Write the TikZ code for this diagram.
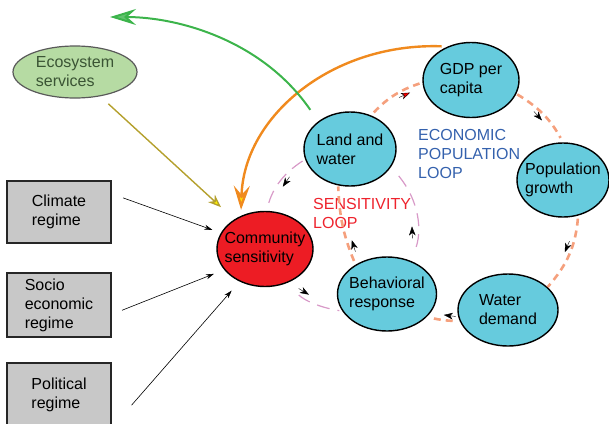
\documentclass[tikz,border=0pt]{standalone}
\usepackage{fontspec}
\setmainfont{Liberation Sans}
\usetikzlibrary{shapes.geometric,arrows.meta,decorations.markings}

\definecolor{nodecyan}{RGB}{102,203,221}
\definecolor{commred}{RGB}{237,28,36}
\definecolor{ecogreen}{RGB}{182,219,163}
\definecolor{ecotext}{RGB}{58,84,52}
\definecolor{boxgray}{RGB}{200,200,200}
\definecolor{econdash}{RGB}{245,160,125}
\definecolor{sensdash}{RGB}{216,154,200}
\definecolor{arcorange}{RGB}{240,138,30}
\definecolor{arcgreen}{RGB}{60,180,75}
\definecolor{ecoline}{RGB}{180,160,45}
\definecolor{loopblue}{RGB}{52,97,173}
\definecolor{loopred}{RGB}{238,35,45}

\tikzset{
    txt/.style={font=\fontsize{16}{19}\selectfont, align=left},
    bubble/.style={txt, ellipse, draw=black, line width=1.4pt, fill=nodecyan,
        inner xsep=-8pt, inner ysep=0pt},
    regime/.style={txt, rectangle, draw=black!85, line width=1.6pt, fill=boxgray,
        minimum width=104pt, inner sep=0pt},
    looptip/.style={solid, black, line width=0.4pt, shorten <=0pt, shorten >=0pt,
        -{Stealth[length=9pt,width=6.5pt,inset=2.5pt]}},
    econloop/.style={draw=econdash, line width=2.6pt, dash pattern=on 7pt off 5pt},
    sensloop/.style={draw=sensdash, line width=1.2pt, dash pattern=on 13pt off 8pt},
    econtick/.style={postaction={decorate, decoration={markings,
        mark=at position #1 with {\draw[looptip] (-12pt,-5pt) -- (0pt,-5pt);}}}},
    redtick/.style={postaction={decorate, decoration={markings,
        mark=at position #1 with {\draw[looptip, -{Stealth[length=9pt,width=6.5pt,inset=2.5pt,fill=red]}]
            (-12pt,-5pt) -- (0pt,-5pt);}}}},
    senstick/.style={postaction={decorate, decoration={markings,
        mark=at position #1 with {\draw[looptip] (-12pt,5pt) -- (0pt,5pt);}}}},
    drive/.style={black, line width=0.6pt, -{Stealth[length=8pt,width=5pt]}},
}

\begin{document}
\begin{tikzpicture}[x=1pt, y=-1pt]
    \useasboundingbox (0,0) rectangle (609,423);
    \clip (0,0) rectangle (609,423);

    % Ecosystem services
    \node[txt, ellipse, draw=gray!70!black, line width=1.2pt, fill=ecogreen, text=ecotext,
        inner xsep=-8pt, inner ysep=0pt, minimum width=124pt, minimum height=52pt]
        (eco) at (75,72) {Ecosystem\\services};

    % Regime boxes
    \node[regime, minimum height=62pt] (climate) at (59,212) {Climate\\regime};
    \node[regime, minimum height=64pt] (socio) at (59,305) {Socio\\economic\\regime};
    \node[regime, minimum height=64pt] (political) at (59,395) {Political\\regime};

    % Loop nodes
    \node[bubble, fill=commred, minimum width=96pt, minimum height=75pt]
        (comm) at (265,249) {Community\\sensitivity};
    \node[bubble, minimum width=92pt, minimum height=74pt] (land) at (350,149) {Land and\\water};
    \node[bubble, minimum width=96pt, minimum height=75pt] (gdp) at (471,80) {GDP per\\capita};
    \node[bubble, minimum width=92pt, minimum height=74pt] (pop) at (563,180) {Population\\growth};
    \node[bubble, minimum width=100pt, minimum height=72pt] (water) at (508,310) {Water\\demand};
    \node[bubble, minimum width=99pt, minimum height=74pt] (behav) at (387,294) {Behavioral\\response};

    % Loop labels
    \node[txt, text=loopblue, anchor=base west, inner sep=0pt] (econlabel) at (418,178)
        {ECONOMIC\\POPULATION\\LOOP};
    \node[txt, text=loopred, anchor=base west, inner sep=0pt] (senslabel) at (313,228)
        {SENSITIVITY\\LOOP};

    % Economic population loop
    \draw[econloop, redtick=0.75, shorten <=4pt, shorten >=3pt] (land.58) to[bend left=14] (gdp.183);
    \draw[econloop, econtick=0.55, shorten <=1pt, shorten >=5pt] (gdp.-17) to[bend left=15] (pop.90);
    \draw[econloop, econtick=0.5, shorten <=3pt] (pop.-67) to[bend left=18] (water.30);
    \draw[econloop, econtick=0.5, shorten <=7pt, shorten >=7pt] (water.193) to[bend left=5] (behav.-30);
    \draw[econloop, econtick=0.3, shorten <=4pt, shorten >=1pt] (behav.137) to[bend left=10] (land.252);

    % Sensitivity loop
    \draw[sensloop, senstick=0.55, shorten <=3pt, shorten >=8pt] (land.193) to[bend right=20] (comm.88);
    \draw[sensloop, senstick=0.4, shorten <=17pt, shorten >=3pt] (comm.-58) to[bend right=17] (behav.201);
    \draw[sensloop, senstick=0.35, shorten <=15pt, shorten >=7pt] (behav.53) to[bend right=30] (land.-24);

    % Regimes acting on community sensitivity
    \foreach \src/\a/\b/\s/\e in {climate/19/160/12/9, socio/-10/207/11/11,
        political/south east/232/30/12} {
        \draw[drive, shorten <=\s pt, shorten >=\e pt] (\src.\a) -- (comm.\b);
    }

    % Ecosystem services feed
    \draw[ecoline, line width=1.4pt, shorten <=11pt, shorten >=18pt,
        -{Stealth[length=13pt,width=10pt,inset=4pt,fill=yellow]}] (eco.-44) -- (comm.136);

    % Feedback arcs
    \draw[arcorange, line width=2.4pt, shorten <=6pt, shorten >=6pt,
        -{Stealth[length=24pt,width=16pt,inset=9pt,fill=yellow!90!orange]}]
        (gdp.125) .. controls +(-115,-4) and +(3,-100) .. (comm.126);
    \coordinate (sky) at (110,17);
    \draw[arcgreen, line width=2pt, shorten <=14pt,
        -{Stealth[length=26pt,width=16pt,inset=9pt,fill=arcgreen!80!white]}]
        (land.139) .. controls +(-55,-80) and +(70,0) .. (sky);
\end{tikzpicture}
\end{document}
